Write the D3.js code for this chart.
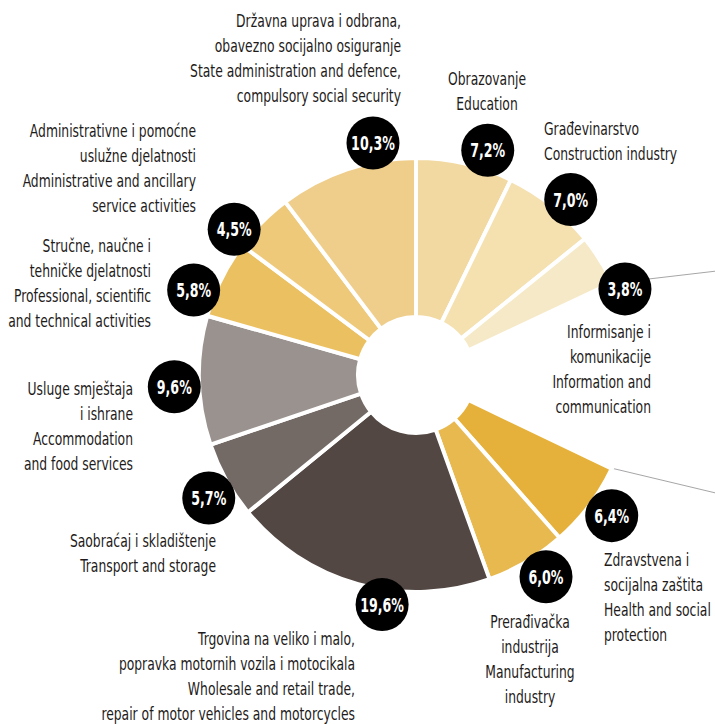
<!DOCTYPE html>
<html>
<head>
<meta charset="utf-8">
<script src="https://cdn.jsdelivr.net/npm/d3@7"></script>
<style>
  html, body { margin: 0; padding: 0; background: #fff; }
  svg { display: block; }
  .lbl { font-family: "Liberation Sans Narrow", "DejaVu Sans Condensed", "Liberation Sans", sans-serif; font-size: 17.5px; fill: #1e1b1a; }
  .pct { font-family: "Liberation Sans Narrow", "DejaVu Sans Condensed", sans-serif; font-weight: bold; font-size: 19.5px; fill: #fff; }
</style>
</head>
<body>
<svg id="chart" width="715" height="724"></svg>
<script>
// Employment share by sector (%), clockwise from 12 o'clock
const sectors = [
  "Obrazovanje", "Građevinarstvo", "Informisanje", "Ostalo",
  "Zdravstvena", "Prerađivačka", "Trgovina", "Saobraćaj",
  "Usluge", "Stručne", "Administrativne", "Državna"
];
const shares = [7.2, 7.0, 3.8, 14.1, 6.4, 6.0, 19.6, 5.7, 9.6, 5.8, 4.5, 10.3];
// "Ostalo" is split off into a secondary chart and is left unfilled here
const hiddenSector = "Ostalo";
const colors = [
  "#f2d9a1", "#f5e0b0", "#f6e9c7", "none",
  "#e6b13a", "#e8b94f", "#524742", "#736a65",
  "#9a928e", "#ebc061", "#eec97a", "#efce8b"
];
const labelLines = [
  ["Obrazovanje", "Education"],
  ["Građevinarstvo", "Construction industry"],
  ["Informisanje i", "komunikacije", "Information and", "communication"],
  [],
  ["Zdravstvena i", "socijalna zaštita", "Health and social", "protection"],
  ["Prerađivačka", "industrija", "Manufacturing", "industry"],
  ["Trgovina na veliko i malo,", "popravka motornih vozila i motocikala", "Wholesale and retail trade,", "repair of motor vehicles and motorcycles"],
  ["Saobraćaj i skladištenje", "Transport and storage"],
  ["Usluge smještaja", "i ishrane", "Accommodation", "and food services"],
  ["Stručne, naučne i", "tehničke djelatnosti", "Professional, scientific", "and technical activities"],
  ["Administrativne i pomoćne", "uslužne djelatnosti", "Administrative and ancillary", "service activities"],
  ["Državna uprava i odbrana,", "obavezno socijalno  osiguranje", "State administration and defence,", "compulsory social security"]
];

// Layout: value badges in polar form [angle°, radius], text blocks as offsets from centre
const badgePolar = [
  [17.7, 236], [41.4, 234], [67.6, 226], null,
  [125.7, 241], [147.2, 240], [188.4, 232], [239.3, 241],
  [267.2, 242], [290.9, 238], [308.7, 233], [349.5, 236]
];
const textLayout = [
  { dx: 71, dy: -290, anchor: "middle" },
  { dx: 128, dy: -240, anchor: "start" },
  { dx: 235, dy: -37, anchor: "end" },
  null,
  { dx: 188, dy: 191, anchor: "start" },
  { dx: 114, dy: 253, anchor: "middle" },
  { dx: -61, dy: 270, anchor: "end" },
  { dx: -200, dy: 172, anchor: "end" },
  { dx: -283, dy: 20, anchor: "end" },
  { dx: -265, dy: -123, anchor: "end" },
  { dx: -220, dy: -238, anchor: "end" },
  { dx: -15, dy: -348, anchor: "end" }
];

const cx = 416, cy = 375;
const outerR = 217, innerR = 58;
const lineH = 25;
const badgeR = 26.5;
// condensed look for the label face
const textSqueeze = 0.785, pctSqueeze = 0.72;
// secondary chart (off to the right) that receives the split-off share
const subOffsetX = 480, subOffsetY = 18, subR = 143;

const svg = d3.select("#chart");
const g = svg.append("g").attr("transform", `translate(${cx},${cy})`);

const data = sectors.map((s, i) => ({ sector: s, value: shares[i], i }));
const pie = d3.pie().sort(null).value(d => d.value);
const arcs = pie(data);
const arc = d3.arc().innerRadius(innerR).outerRadius(outerR);

// connector lines from the split-off sector to the secondary chart
const hidden = arcs.find(a => a.data.sector === hiddenSector);
const edgeR = outerR - 2;
const p1 = [edgeR * Math.sin(hidden.startAngle), -edgeR * Math.cos(hidden.startAngle)];
const p2 = [edgeR * Math.sin(hidden.endAngle), -edgeR * Math.cos(hidden.endAngle)];
g.append("line")
  .attr("x1", p1[0]).attr("y1", p1[1])
  .attr("x2", subOffsetX).attr("y2", subOffsetY - subR)
  .attr("stroke", "#a6a6a6").attr("stroke-width", 1);
g.append("line")
  .attr("x1", p2[0]).attr("y1", p2[1])
  .attr("x2", subOffsetX).attr("y2", subOffsetY + subR)
  .attr("stroke", "#a6a6a6").attr("stroke-width", 1);

// slices
g.selectAll("path.slice")
  .data(arcs.filter(a => a.data.sector !== hiddenSector))
  .join("path")
  .attr("class", "slice")
  .attr("d", arc)
  .attr("fill", d => colors[d.data.i])
  .attr("stroke", "#fff")
  .attr("stroke-width", 4)
  .attr("stroke-linejoin", "miter");

// text labels
arcs.forEach(a => {
  const i = a.data.i;
  const t = textLayout[i];
  if (!t) return;
  const txt = g.append("g")
    .attr("transform", `translate(${t.dx},0) scale(${textSqueeze},1)`)
    .append("text")
    .attr("class", "lbl")
    .attr("text-anchor", t.anchor);
  labelLines[i].forEach((ln, k) => {
    txt.append("tspan")
      .attr("x", 0)
      .attr("y", t.dy + k * lineH)
      .text(ln);
  });
});

// value badges
const fmt = v => d3.format(".1f")(v).replace(".", ",") + "%";
arcs.forEach(a => {
  const i = a.data.i;
  const b = badgePolar[i];
  if (!b) return;
  const ang = b[0] * Math.PI / 180;
  const x = b[1] * Math.sin(ang), y = -b[1] * Math.cos(ang);
  g.append("circle").attr("cx", x).attr("cy", y).attr("r", badgeR).attr("fill", "#000");
  g.append("g")
    .attr("transform", `translate(${x},${y}) scale(${pctSqueeze},1)`)
    .append("text")
    .attr("class", "pct")
    .attr("dy", "0.36em")
    .attr("text-anchor", "middle")
    .text(fmt(a.data.value));
});
</script>
</body>
</html>
